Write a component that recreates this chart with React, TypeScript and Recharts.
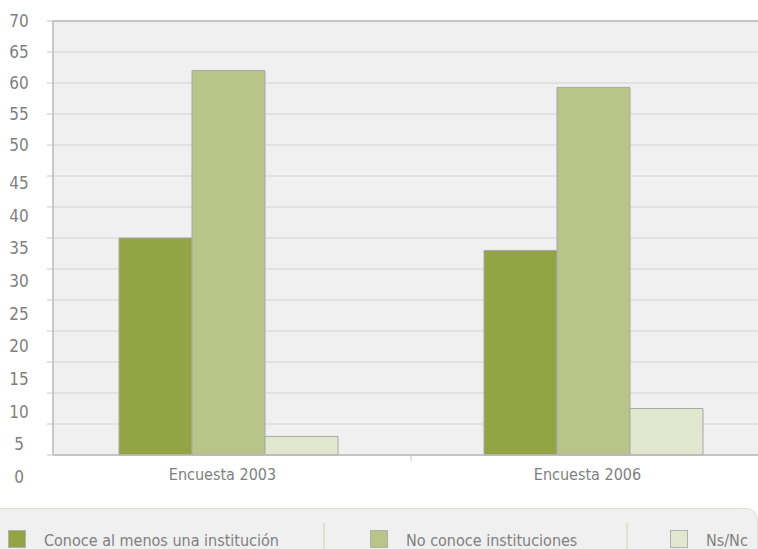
import React from 'react';
import {
  Bar,
  BarChart,
  CartesianGrid,
  ReferenceLine,
  XAxis,
  YAxis,
} from 'recharts';

const categories = ['Encuesta 2003', 'Encuesta 2006'];
const conoce = [35, 33];
const noConoce = [62, 59.3];
const nsNc = [3, 7.5];
const yTicks = [0, 5, 10, 15, 20, 25, 30, 35, 40, 45, 50, 55, 60, 65, 70];

const seriesNames = ['Conoce al menos una institución', 'No conoce instituciones', 'Ns/Nc'];
const seriesKeys = ['conoce', 'noConoce', 'nsNc'];
const seriesColors = ['#93a444', '#b9c588', '#e2e7cf'];

const data = categories.map((name, i) => ({
  name,
  conoce: conoce[i],
  noConoce: noConoce[i],
  nsNc: nsNc[i],
}));

const FONT = '"DejaVu Sans Condensed", "Liberation Sans Narrow", sans-serif';
const TEXT = '#7f7f7f';
const BAND = 365;

// the original labels drift below their gridlines in the lower half
const labelShift = (v: number) => (v >= 50 ? 0 : 7 + ((45 - v) / 5) * 1.67);

const YTick = ({ x, y, payload }: any) => (
  <text
    x={x - 26}
    y={y + labelShift(payload.value)}
    textAnchor='middle'
    dominantBaseline='central'
    fontFamily={FONT}
    fontSize={17}
    fill={TEXT}
  >
    {payload.value}
  </text>
);

const XTick = ({ x, y, payload }: any) => (
  <g>
    <line x1={x + BAND / 2} x2={x + BAND / 2} y1={y - 8} y2={y - 2} stroke='#c8c8c8' />
    <text
      x={x - 6}
      y={y + 11}
      textAnchor='middle'
      dominantBaseline='central'
      fontFamily={FONT}
      fontSize={16}
      fill={TEXT}
    >
      {payload.value}
    </text>
  </g>
);

const legendX = [8, 370, 670];
const dividerX = [323, 626];

export default function App() {
  return (
    <div
      style={{
        position: 'absolute',
        left: 0,
        top: 0,
        width: 758,
        height: 549,
        overflow: 'hidden',
        background: '#fff',
      }}
    >
      <BarChart
        width={776}
        height={549}
        data={data}
        margin={{ top: 21, right: 0, left: 0, bottom: 54 }}
        barCategoryGap='20%'
        barGap={0}
      >
        <CartesianGrid vertical={false} stroke='#d4d4d4' fill='#f0f0f0' strokeWidth={1.2} />
        <ReferenceLine y={70} stroke='#b8b8b8' strokeWidth={1.5} />
        <XAxis
          dataKey='name'
          height={40}
          padding={{ left: -7, right: 0 }}
          axisLine={{ stroke: '#b8b8b8', strokeWidth: 1.5 }}
          tickLine={false}
          tick={<XTick />}
        />
        <YAxis
          width={53}
          domain={[0, 70]}
          ticks={yTicks}
          interval={0}
          axisLine={{ stroke: '#b8b8b8', strokeWidth: 1.5 }}
          tickLine={{ stroke: '#c8c8c8' }}
          tick={<YTick />}
        />
        {seriesKeys.map((k, i) => (
          <Bar
            key={k}
            dataKey={k}
            name={seriesNames[i]}
            fill={seriesColors[i]}
            stroke='#a8a8a8'
            strokeWidth={1}
            isAnimationActive={false}
          />
        ))}
      </BarChart>
      <div
        style={{
          position: 'absolute',
          left: 0,
          top: 508,
          width: 757,
          height: 60,
          background: '#f0f0f0',
          borderTop: '1.5px solid #dde3c4',
          borderRight: '1.5px solid #dde3c4',
          borderTopRightRadius: 12,
          fontFamily: FONT,
          fontSize: 16,
          color: TEXT,
        }}
      >
        {dividerX.map((dx) => (
          <div
            key={dx}
            style={{
              position: 'absolute',
              left: dx,
              top: 14,
              width: 1.5,
              height: 50,
              background: '#dde3c4',
            }}
          />
        ))}
        {seriesNames.map((n, i) => (
          <div
            key={n}
            style={{
              position: 'absolute',
              left: legendX[i],
              top: 21,
              display: 'flex',
              alignItems: 'flex-start',
              whiteSpace: 'nowrap',
            }}
          >
            <div
              style={{
                width: 18,
                height: 18,
                background: seriesColors[i],
                border: '1px solid #b0b0b0',
                boxSizing: 'border-box',
              }}
            />
            <span style={{ marginLeft: 18, lineHeight: '18px', marginTop: 2 }}>{n}</span>
          </div>
        ))}
      </div>
    </div>
  );
}
